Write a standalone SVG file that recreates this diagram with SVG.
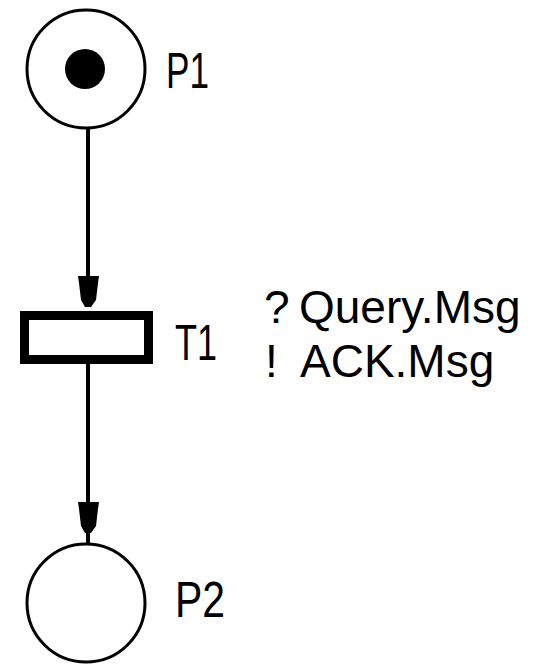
<svg xmlns="http://www.w3.org/2000/svg" width="543" height="664" viewBox="0 0 543 664">
<style>
.place{fill:#fff;stroke:#000;stroke-width:3}
.trans{fill:#fff;stroke:#000;stroke-width:9}
.edge{stroke:#000;stroke-width:4;fill:none}
.head{fill:#000}
.lbl{font-family:"Liberation Sans",Arial,sans-serif;font-size:50px;fill:#000}
.msg{font-family:"Liberation Sans",Arial,sans-serif;font-size:46px;fill:#000}
</style>
<g id="connectors">
<line class="edge" x1="88" y1="129" x2="88" y2="280"/>
<polygon class="head" points="78,276 99,276 98,283 96,300 91,307 85,307 81,300 79,283"/>
<line class="edge" x1="88" y1="364" x2="88" y2="543"/>
<polygon class="head" points="78,502 99,502 98,509 96,526 91,533 85,533 81,526 79,509"/>
</g>
<g id="P1">
<circle class="place" cx="86" cy="69" r="59"/>
<circle cx="85" cy="69" r="20" fill="#000"/>
<text class="lbl" x="166" y="88" textLength="43" lengthAdjust="spacingAndGlyphs">P1</text>
</g>
<g id="T1">
<rect class="trans" x="24.5" y="315.5" width="124" height="44"/>
<text class="lbl" x="175" y="360" textLength="42" lengthAdjust="spacingAndGlyphs">T1</text>
<text class="msg" y="323"><tspan x="264">?</tspan><tspan x="299">Query.Msg</tspan></text>
<text class="msg" y="377"><tspan x="265">!</tspan><tspan x="300">ACK.Msg</tspan></text>
</g>
<g id="P2">
<circle class="place" cx="86" cy="603" r="59"/>
<text class="lbl" x="175" y="617" textLength="50" lengthAdjust="spacingAndGlyphs">P2</text>
</g>
</svg>
